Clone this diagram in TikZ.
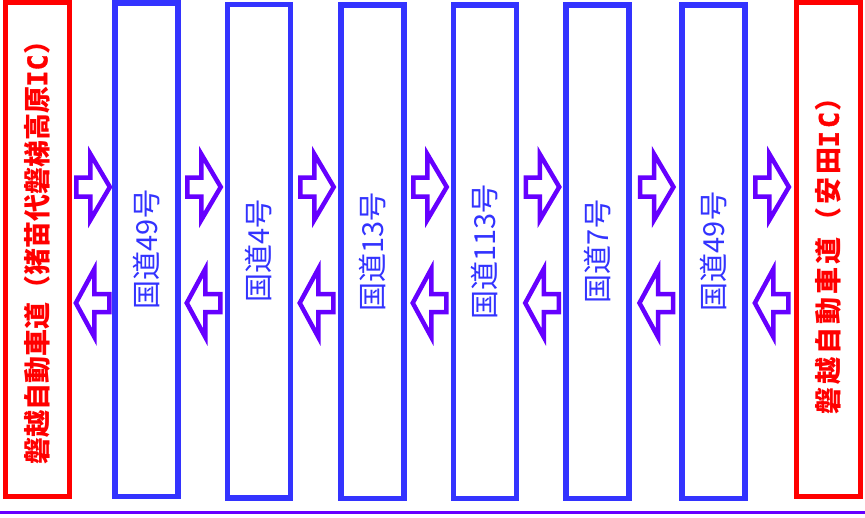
\documentclass[tikz,border=0pt]{standalone}
\usepackage{fontspec}
\setmainfont{Noto Sans CJK JP}
\newfontfamily\icfont{DejaVu Sans Mono}[UprightFont={DejaVu Sans Mono Bold}, BoldFont={DejaVu Sans Mono Bold}, FakeBold=1.5]
\newfontfamily\icfontsp{DejaVu Sans Mono}[UprightFont={DejaVu Sans Mono Bold}, BoldFont={DejaVu Sans Mono Bold}, FakeBold=1.5, LetterSpace=11]
\usetikzlibrary{calc}
\definecolor{boxred}{HTML}{FF0000}
\definecolor{boxblue}{HTML}{3333FF}
\definecolor{arrowpurple}{HTML}{6600FF}
\tikzset{
  redbox/.style={draw=boxred, line width=5pt, rectangle, rotate=90,
    minimum width=494pt, minimum height=64pt, inner sep=0pt, text=boxred,
    font=\bfseries\fontsize{27}{30}\selectfont},
  bluebox/.style={draw=boxblue, line width=5.5pt, rectangle, rotate=90,
    minimum width=493.5pt, minimum height=63pt, inner sep=0pt, text=boxblue,
    font=\fontsize{29}{33}\selectfont},
  arrowline/.style={draw=arrowpurple, line width=4.5pt, fill=white},
  bottomline/.style={draw=arrowpurple, line width=3pt},
  rarr/.pic={\draw[arrowline] (-15.5,-9.5) -- (-1.5,-9.5) -- (-1.5,-33) -- (18,0)
      -- (-1.5,33) -- (-1.5,9.5) -- (-15.5,9.5) -- cycle;},
  larr/.pic={\draw[arrowline] (17.5,-9) -- (2.5,-9) -- (2.5,-34) -- (-16,0)
      -- (2.5,34) -- (2.5,9) -- (17.5,9) -- cycle;}
}
\begin{document}
\begin{tikzpicture}[x=1pt,y=-1pt]
\useasboundingbox (0,0) rectangle (865,517);
\node[redbox] (ic1) at (37,249.5) {磐越自動車道（猪苗代磐梯高原{\icfont IC}）\hspace*{-7pt}};
\node[bluebox] (r1) at (146.5,249.5) {国道49号};
\node[bluebox] (r2) at (259,251.2) {国道4号};
\node[bluebox] (r3) at (372.5,251.7) {国道13号};
\node[bluebox] (r4) at (485,251.7) {国道113号};
\node[bluebox] (r5) at (597.5,251.5) {国道7号};
\node[bluebox] (r6) at (713.5,251.5) {国道49号};
\node[redbox, font=\bfseries\fontsize{27}{30}\selectfont\addfontfeatures{LetterSpace=11}] (ic2) at (828.5,249.5) {磐越自動車道（安田{\icfontsp IC}）};
\coordinate (rowR) at (0,187);
\coordinate (rowL) at (0,303);
\foreach \a/\b [count=\i] in {ic1/r1,r1/r2,r2/r3,r3/r4,r4/r5,r5/r6,r6/ic2}{
  \coordinate (m\i) at ($(\a.south)!0.5!(\b.north)$);
  \pic at (m\i |- rowR) {rarr};
  \pic at (m\i |- rowL) {larr};
}
\coordinate (bl) at (0,512.5);
\coordinate (br) at (865,512.5);
\draw[bottomline] (bl) -- (br);
\end{tikzpicture}
\end{document}
